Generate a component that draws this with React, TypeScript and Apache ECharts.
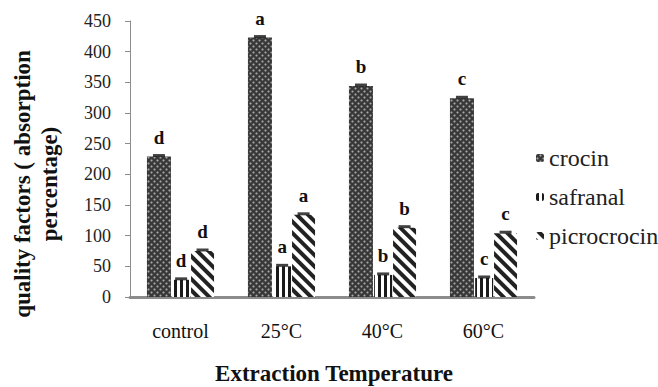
import React, { useEffect, useRef } from "react";
import * as echarts from "echarts";

const categories = ["control", "25°C", "40°C", "60°C"];
const seriesNames = ["crocin", "safranal", "picrocrocin"];
const crocin = [229, 423, 344, 324];
const safranal = [28, 50, 36, 31];
const picrocrocin = [75, 134, 113, 104];
const crocinLetters = ["d", "a", "b", "c"];
const safranalLetters = ["d", "a", "b", "c"];
const picrocrocinLetters = ["d", "a", "b", "c"];
const yTicks = { min: 0, max: 450, interval: 50 };

const FONT = "Liberation Serif, serif";

export default function App() {
  const ref = useRef<HTMLDivElement>(null);
  useEffect(() => {
    document.body.style.margin = "0";
    if (!ref.current) return;
    const chart = echarts.init(ref.current, null, { renderer: "svg" });

    const widths = [24, 18, 23];
    const gapPct = 0.05;
    let total = 0;
    widths.forEach((w, i) => {
      total += i < widths.length - 1 ? w * (1 + gapPct) : w;
    });
    const offsets: number[] = [];
    let off = -total / 2;
    widths.forEach((w) => {
      offsets.push(off + w / 2);
      off += w * (1 + gapPct);
    });

    const values = [crocin, safranal, picrocrocin];
    const letters = [crocinLetters, safranalLetters, picrocrocinLetters];
    const colors = ["#383838", "#ffffff", "#ffffff"];
    const decals: any[] = [
      {
        symbol: "circle",
        symbolSize: 0.7,
        color: "#a8a8a8",
        dashArrayX: [
          [2.5, 2.5],
          [0, 2.5, 2.5, 0],
        ],
        dashArrayY: [2.5, 0],
      },
      {
        symbol: "rect",
        symbolSize: 1,
        color: "#1a1a1a",
        dashArrayX: [2.5, 3],
        dashArrayY: [4, 0],
      },
      {
        symbol: "rect",
        symbolSize: 1,
        color: "#222222",
        dashArrayX: [3.5, 4],
        dashArrayY: [4, 0],
        rotation: -Math.PI / 4,
      },
    ];

    const barSeries = seriesNames.map((name, i) => ({
      name,
      type: "bar",
      data: values[i],
      barWidth: widths[i],
      barGap: "5%",
      itemStyle: { color: colors[i], decal: decals[i] },
      label: {
        show: true,
        position: "top",
        distance: 10,
        formatter: (p: any) => letters[i][p.dataIndex],
        fontFamily: FONT,
        fontWeight: "bold",
        fontSize: 19,
        color: "#111",
      },
    }));

    const capSeries = seriesNames.map((name, i) => ({
      name: name + " error",
      type: "scatter",
      data: values[i],
      symbol: "rect",
      symbolSize: [12, 3],
      symbolOffset: [offsets[i], -1],
      itemStyle: { color: "#111" },
      z: 5,
      silent: true,
    }));

    chart.setOption({
      animation: false,
      textStyle: { fontFamily: FONT },
      grid: { left: 130, right: 124, top: 21, bottom: 90 },
      legend: {
        orient: "vertical",
        left: 531,
        top: 141,
        itemWidth: 8,
        itemHeight: 8,
        itemGap: 15,
        data: seriesNames,
        textStyle: { fontFamily: FONT, fontSize: 24, color: "#222" },
      },
      xAxis: {
        type: "category",
        data: categories,
        axisLine: { lineStyle: { color: "#8c8c8c", width: 3 } },
        axisTick: { show: false },
        axisLabel: {
          fontFamily: FONT,
          fontSize: 20,
          color: "#111",
          margin: 24,
        },
      },
      yAxis: {
        type: "value",
        min: yTicks.min,
        max: yTicks.max,
        interval: yTicks.interval,
        splitLine: { show: false },
        axisLine: { show: true, lineStyle: { color: "#8c8c8c", width: 1 } },
        axisTick: { show: true, length: 5, lineStyle: { color: "#8c8c8c" } },
        axisLabel: {
          fontFamily: FONT,
          fontSize: 18,
          color: "#222",
          margin: 19,
        },
      },
      graphic: [
        {
          type: "text",
          x: 36,
          y: 184,
          rotation: Math.PI / 2,
          style: {
            text: "quality factors ( absorption\npercentage)",
            fontFamily: FONT,
            fontWeight: "bold",
            fontSize: 23,
            fill: "#111",
            textAlign: "center",
            textVerticalAlign: "middle",
            lineHeight: 27,
          },
        },
        {
          type: "text",
          x: 334,
          y: 373,
          style: {
            text: "Extraction Temperature",
            fontFamily: FONT,
            fontWeight: "bold",
            fontSize: 23,
            fill: "#111",
            textAlign: "center",
            textVerticalAlign: "middle",
          },
        },
      ],
      series: [...barSeries, ...capSeries],
    });

    return () => chart.dispose();
  }, []);
  return <div ref={ref} style={{ width: 658, height: 387 }} />;
}
